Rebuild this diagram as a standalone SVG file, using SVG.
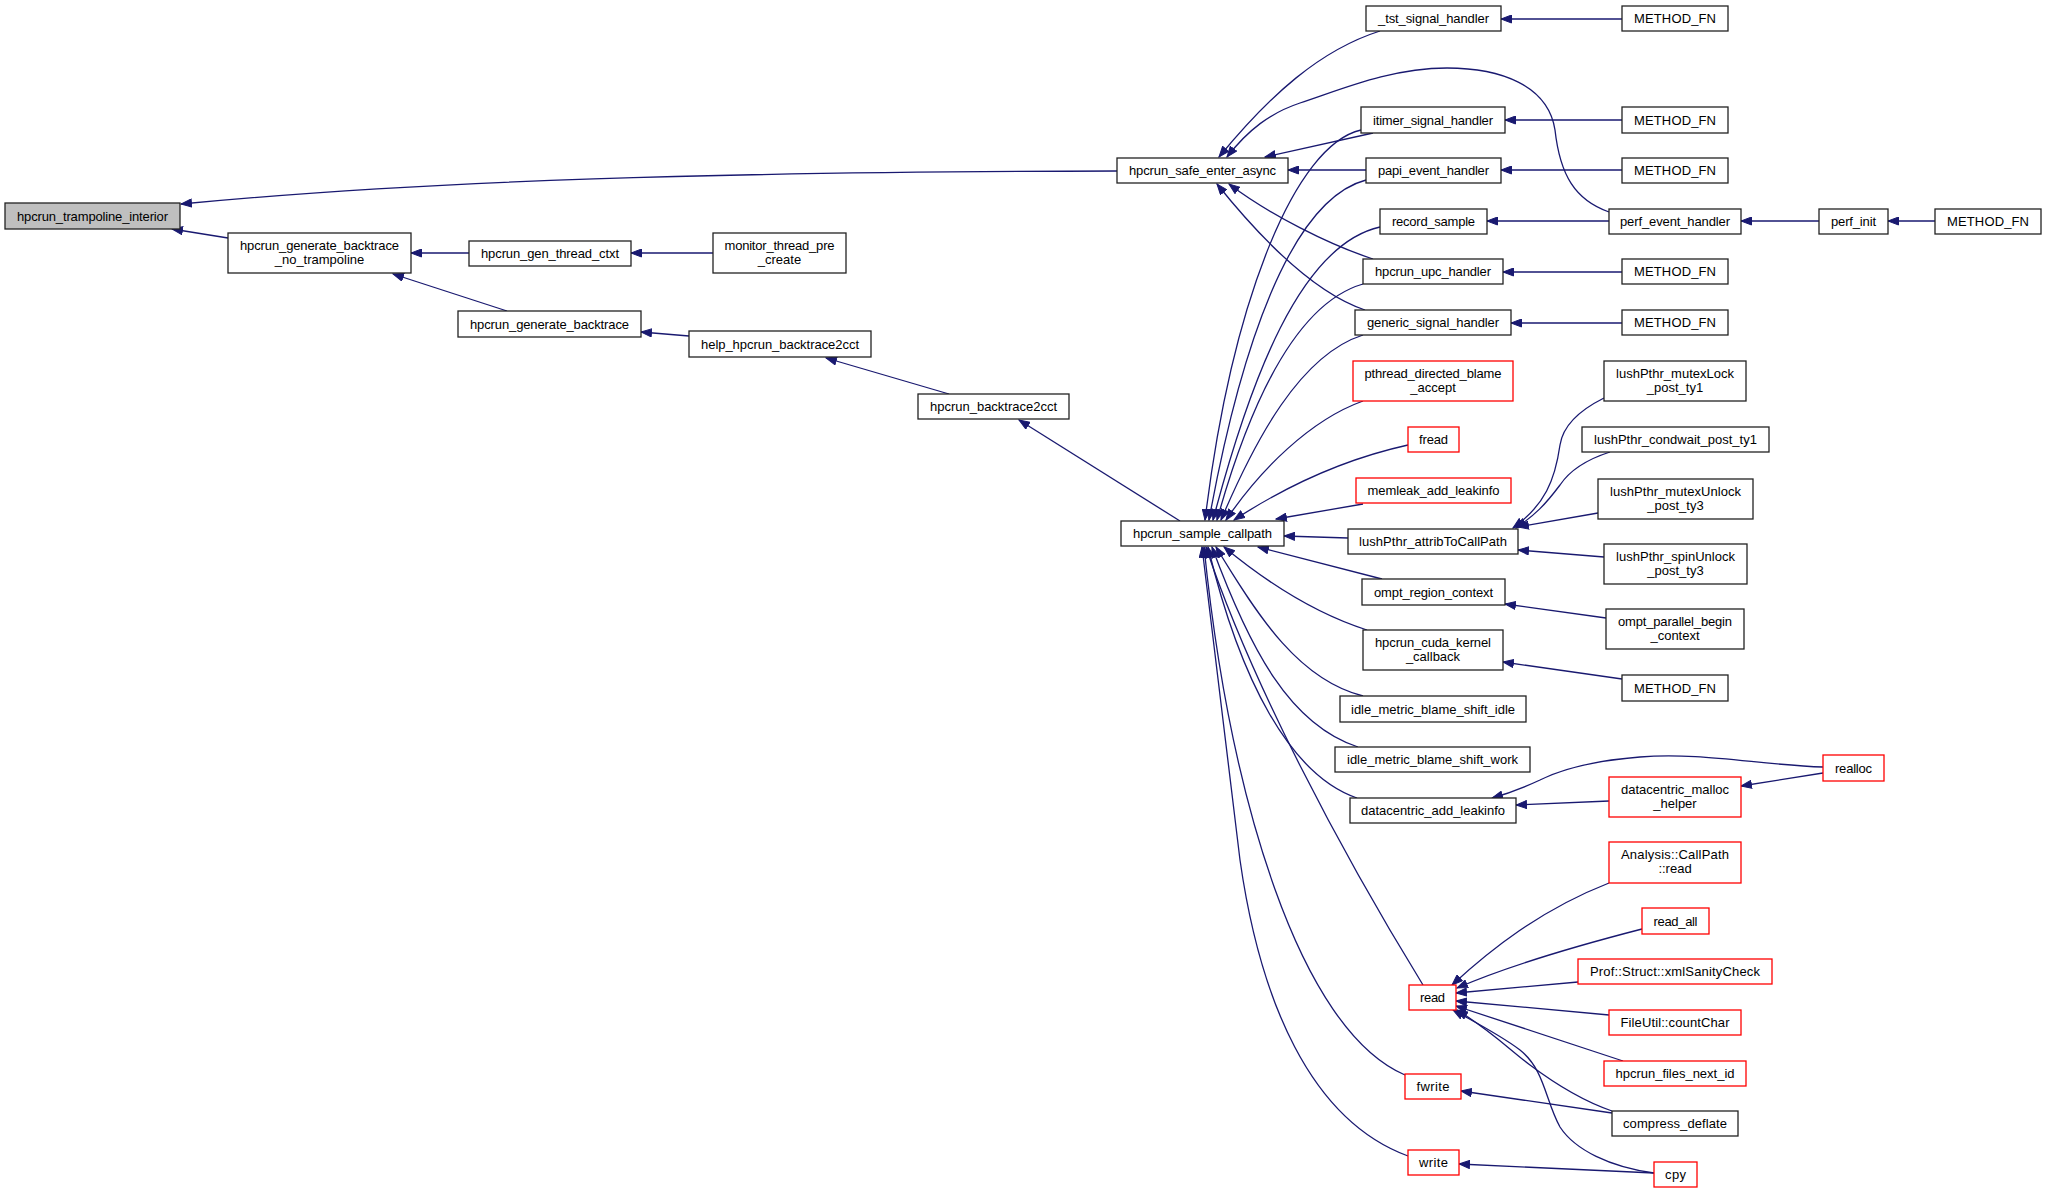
<svg xmlns="http://www.w3.org/2000/svg" width="2047" height="1193" viewBox="0 0 2047 1193">
<style>
.n rect{fill:#fff;stroke:#222;stroke-width:1.3}
.n.r rect{stroke:#ff0000}
.n.g rect{fill:#bfbfbf}
text{font-family:"Liberation Sans",Arial,Helvetica,sans-serif;font-size:13px;text-anchor:middle;fill:#000}
#edges path{fill:none;stroke:#191970;stroke-width:1.3;marker-end:url(#a)}
</style>
<defs>
<marker id="a" markerWidth="12" markerHeight="9" refX="11" refY="4.5" orient="auto" markerUnits="userSpaceOnUse">
<path d="M0.5,0.5 L11,4.5 L0.5,8.5 z" fill="#191970" stroke="#191970" stroke-width="1"/>
</marker>
</defs>
<rect x="0" y="0" width="2047" height="1193" fill="#fff"/>
<g id="edges">
<path d="M1117,171 C720,172 430,180 181,204"/>
<path d="M228,238 L172,229"/>
<path d="M469,253 L411,253"/>
<path d="M507,311 L393,274"/>
<path d="M713,253 L631,253"/>
<path d="M689,336 L641,332"/>
<path d="M949,394 L826,358"/>
<path d="M1180,521 L1019,420"/>
<path d="M1380,31 C1320,50 1270,95 1219,157"/>
<path d="M1609,212 C1575,200 1560,175 1555,130 C1548,85 1500,68 1447,68 C1390,68 1340,90 1300,103 C1270,113 1248,130 1227,157"/>
<path d="M1373,133 L1265,157"/>
<path d="M1366,170 L1288,170"/>
<path d="M1373,259 C1330,245 1270,215 1229,184"/>
<path d="M1365,310 C1320,295 1270,250 1217,184"/>
<path d="M1622,19 L1501,19"/>
<path d="M1622,120 L1505,120"/>
<path d="M1622,170 L1501,170"/>
<path d="M1609,221 L1487,221"/>
<path d="M1819,221 L1741,221"/>
<path d="M1935,221 L1888,221"/>
<path d="M1622,272 L1503,272"/>
<path d="M1622,323 L1511,323"/>
<path d="M1361,130 C1295,145 1232,300 1205,520"/>
<path d="M1366,180 C1290,200 1240,350 1209,520"/>
<path d="M1380,227 C1300,245 1250,380 1213,520"/>
<path d="M1363,284 C1290,305 1245,420 1217,520"/>
<path d="M1363,335 C1300,355 1255,440 1221,520"/>
<path d="M1363,401 C1310,420 1260,470 1226,520"/>
<path d="M1408,445 C1340,460 1280,490 1234,520"/>
<path d="M1363,504 L1276,519"/>
<path d="M1348,538 L1284,536"/>
<path d="M1382,579 L1258,547"/>
<path d="M1367,630 C1320,615 1270,585 1224,547"/>
<path d="M1363,696 C1300,680 1260,620 1216,547"/>
<path d="M1358,747 C1290,725 1250,650 1212,547"/>
<path d="M1357,798 C1290,775 1240,680 1208,547"/>
<path d="M1423,985 C1340,850 1250,680 1206,547"/>
<path d="M1405,1075 C1300,1030 1230,800 1204,547"/>
<path d="M1408,1156 C1310,1120 1260,1000 1240,860 C1225,740 1210,620 1202,547"/>
<path d="M1604,398 C1580,410 1563,425 1560,445 C1555,480 1545,505 1513,528"/>
<path d="M1610,452 C1585,460 1570,470 1560,485 C1545,505 1535,515 1516,528"/>
<path d="M1598,513 L1518,527"/>
<path d="M1604,557 L1518,550"/>
<path d="M1606,618 L1505,604"/>
<path d="M1622,679 L1503,662"/>
<path d="M1823,767 C1760,765 1700,752 1640,757 C1590,761 1560,770 1540,780 C1525,787 1510,793 1492,798"/>
<path d="M1823,773 L1741,786"/>
<path d="M1609,801 L1516,805"/>
<path d="M1609,883 C1540,910 1490,950 1452,985"/>
<path d="M1642,929 C1580,945 1510,965 1457,988"/>
<path d="M1578,982 L1456,993"/>
<path d="M1609,1015 L1456,1001"/>
<path d="M1623,1061 L1456,1006"/>
<path d="M1612,1111 C1580,1100 1550,1080 1530,1065 C1510,1050 1490,1030 1457,1010"/>
<path d="M1654,1173 C1610,1167 1575,1150 1560,1127 C1545,1100 1545,1070 1520,1050 C1500,1035 1480,1025 1453,1010"/>
<path d="M1612,1113 L1461,1091"/>
<path d="M1654,1173 L1459,1164"/>
</g>
<g id="n1" class="n g"><rect x="5" y="203" width="175" height="26"/><text x="92.5" y="220.5" textLength="151">hpcrun_trampoline_interior</text></g>
<g id="n2" class="n"><rect x="228" y="233" width="183" height="40"/><text x="319.5" y="249.5" textLength="159">hpcrun_generate_backtrace</text><text x="319.5" y="263.5">_no_trampoline</text></g>
<g id="n3" class="n"><rect x="469" y="241" width="162" height="25"/><text x="550" y="258" textLength="138">hpcrun_gen_thread_ctxt</text></g>
<g id="n4" class="n"><rect x="458" y="311" width="183" height="26"/><text x="549.5" y="328.5" textLength="159">hpcrun_generate_backtrace</text></g>
<g id="n5" class="n"><rect x="713" y="233" width="133" height="40"/><text x="779.5" y="249.5" textLength="110">monitor_thread_pre</text><text x="779.5" y="263.5">_create</text></g>
<g id="n6" class="n"><rect x="689" y="331" width="182" height="26"/><text x="780" y="348.5" textLength="158">help_hpcrun_backtrace2cct</text></g>
<g id="n7" class="n"><rect x="918" y="394" width="151" height="25"/><text x="993.5" y="411" textLength="127">hpcrun_backtrace2cct</text></g>
<g id="n8" class="n"><rect x="1117" y="158" width="171" height="25"/><text x="1202.5" y="175" textLength="147">hpcrun_safe_enter_async</text></g>
<g id="n9" class="n"><rect x="1121" y="521" width="163" height="25"/><text x="1202.5" y="538" textLength="139">hpcrun_sample_callpath</text></g>
<g id="n10" class="n"><rect x="1366" y="6" width="135" height="25"/><text x="1433.5" y="23" textLength="111">_tst_signal_handler</text></g>
<g id="n11" class="n"><rect x="1361" y="107" width="144" height="26"/><text x="1433" y="124.5" textLength="120">itimer_signal_handler</text></g>
<g id="n12" class="n"><rect x="1366" y="158" width="135" height="25"/><text x="1433.5" y="175" textLength="111">papi_event_handler</text></g>
<g id="n13" class="n"><rect x="1380" y="209" width="107" height="25"/><text x="1433.5" y="226" textLength="83">record_sample</text></g>
<g id="n14" class="n"><rect x="1363" y="259" width="140" height="25"/><text x="1433" y="276" textLength="116">hpcrun_upc_handler</text></g>
<g id="n15" class="n"><rect x="1355" y="310" width="156" height="25"/><text x="1433" y="327" textLength="132">generic_signal_handler</text></g>
<g id="n16" class="n r"><rect x="1353" y="361" width="160" height="40"/><text x="1433" y="377.5" textLength="137">pthread_directed_blame</text><text x="1433" y="391.5">_accept</text></g>
<g id="n17" class="n r"><rect x="1408" y="427" width="51" height="25"/><text x="1433.5" y="444" textLength="29">fread</text></g>
<g id="n18" class="n r"><rect x="1356" y="478" width="155" height="25"/><text x="1433.5" y="495" textLength="132">memleak_add_leakinfo</text></g>
<g id="n19" class="n"><rect x="1348" y="529" width="170" height="25"/><text x="1433" y="546" textLength="148">lushPthr_attribToCallPath</text></g>
<g id="n20" class="n"><rect x="1362" y="579" width="143" height="26"/><text x="1433.5" y="596.5" textLength="119">ompt_region_context</text></g>
<g id="n21" class="n"><rect x="1363" y="630" width="140" height="40"/><text x="1433" y="646.5" textLength="116">hpcrun_cuda_kernel</text><text x="1433" y="660.5">_callback</text></g>
<g id="n22" class="n"><rect x="1340" y="696" width="186" height="26"/><text x="1433" y="713.5" textLength="164">idle_metric_blame_shift_idle</text></g>
<g id="n23" class="n"><rect x="1335" y="747" width="195" height="25"/><text x="1432.5" y="764" textLength="171">idle_metric_blame_shift_work</text></g>
<g id="n24" class="n"><rect x="1350" y="798" width="166" height="25"/><text x="1433" y="815" textLength="144">datacentric_add_leakinfo</text></g>
<g id="n25" class="n r"><rect x="1409" y="985" width="47" height="25"/><text x="1432.5" y="1002" textLength="25">read</text></g>
<g id="n26" class="n r"><rect x="1405" y="1074" width="56" height="25"/><text x="1433" y="1091" textLength="33">fwrite</text></g>
<g id="n27" class="n r"><rect x="1408" y="1150" width="51" height="25"/><text x="1433.5" y="1167" textLength="29">write</text></g>
<g id="n28" class="n"><rect x="1622" y="6" width="106" height="25"/><text x="1675" y="23" textLength="82">METHOD_FN</text></g>
<g id="n29" class="n"><rect x="1622" y="107" width="106" height="26"/><text x="1675" y="124.5" textLength="82">METHOD_FN</text></g>
<g id="n30" class="n"><rect x="1622" y="158" width="106" height="25"/><text x="1675" y="175" textLength="82">METHOD_FN</text></g>
<g id="n31" class="n"><rect x="1609" y="209" width="132" height="25"/><text x="1675" y="226" textLength="110">perf_event_handler</text></g>
<g id="n32" class="n"><rect x="1819" y="209" width="69" height="25"/><text x="1853.5" y="226" textLength="45">perf_init</text></g>
<g id="n33" class="n"><rect x="1935" y="209" width="106" height="25"/><text x="1988" y="226" textLength="82">METHOD_FN</text></g>
<g id="n34" class="n"><rect x="1622" y="259" width="106" height="25"/><text x="1675" y="276" textLength="82">METHOD_FN</text></g>
<g id="n35" class="n"><rect x="1622" y="310" width="106" height="25"/><text x="1675" y="327" textLength="82">METHOD_FN</text></g>
<g id="n36" class="n"><rect x="1604" y="361" width="142" height="40"/><text x="1675" y="377.5" textLength="118">lushPthr_mutexLock</text><text x="1675" y="391.5">_post_ty1</text></g>
<g id="n37" class="n"><rect x="1582" y="427" width="187" height="25"/><text x="1675.5" y="444" textLength="163">lushPthr_condwait_post_ty1</text></g>
<g id="n38" class="n"><rect x="1598" y="479" width="155" height="40"/><text x="1675.5" y="495.5" textLength="131">lushPthr_mutexUnlock</text><text x="1675.5" y="509.5">_post_ty3</text></g>
<g id="n39" class="n"><rect x="1604" y="544" width="143" height="40"/><text x="1675.5" y="560.5" textLength="119">lushPthr_spinUnlock</text><text x="1675.5" y="574.5">_post_ty3</text></g>
<g id="n40" class="n"><rect x="1606" y="609" width="138" height="40"/><text x="1675" y="625.5" textLength="114">ompt_parallel_begin</text><text x="1675" y="639.5">_context</text></g>
<g id="n41" class="n"><rect x="1622" y="675" width="106" height="26"/><text x="1675" y="692.5" textLength="82">METHOD_FN</text></g>
<g id="n42" class="n r"><rect x="1823" y="755" width="61" height="26"/><text x="1853.5" y="772.5" textLength="37">realloc</text></g>
<g id="n43" class="n r"><rect x="1609" y="777" width="132" height="40"/><text x="1675" y="793.5" textLength="108">datacentric_malloc</text><text x="1675" y="807.5">_helper</text></g>
<g id="n44" class="n r"><rect x="1609" y="842" width="132" height="41"/><text x="1675" y="859" textLength="108">Analysis::CallPath</text><text x="1675" y="873">::read</text></g>
<g id="n45" class="n r"><rect x="1642" y="908" width="67" height="26"/><text x="1675.5" y="925.5" textLength="44">read_all</text></g>
<g id="n46" class="n r"><rect x="1578" y="959" width="194" height="25"/><text x="1675" y="976" textLength="170">Prof::Struct::xmlSanityCheck</text></g>
<g id="n47" class="n r"><rect x="1609" y="1010" width="132" height="25"/><text x="1675" y="1027" textLength="109">FileUtil::countChar</text></g>
<g id="n48" class="n r"><rect x="1604" y="1061" width="142" height="25"/><text x="1675" y="1078" textLength="119">hpcrun_files_next_id</text></g>
<g id="n49" class="n"><rect x="1612" y="1111" width="126" height="25"/><text x="1675" y="1128" textLength="104">compress_deflate</text></g>
<g id="n50" class="n r"><rect x="1654" y="1162" width="43" height="25"/><text x="1675.5" y="1179" textLength="21">cpy</text></g>
</svg>
